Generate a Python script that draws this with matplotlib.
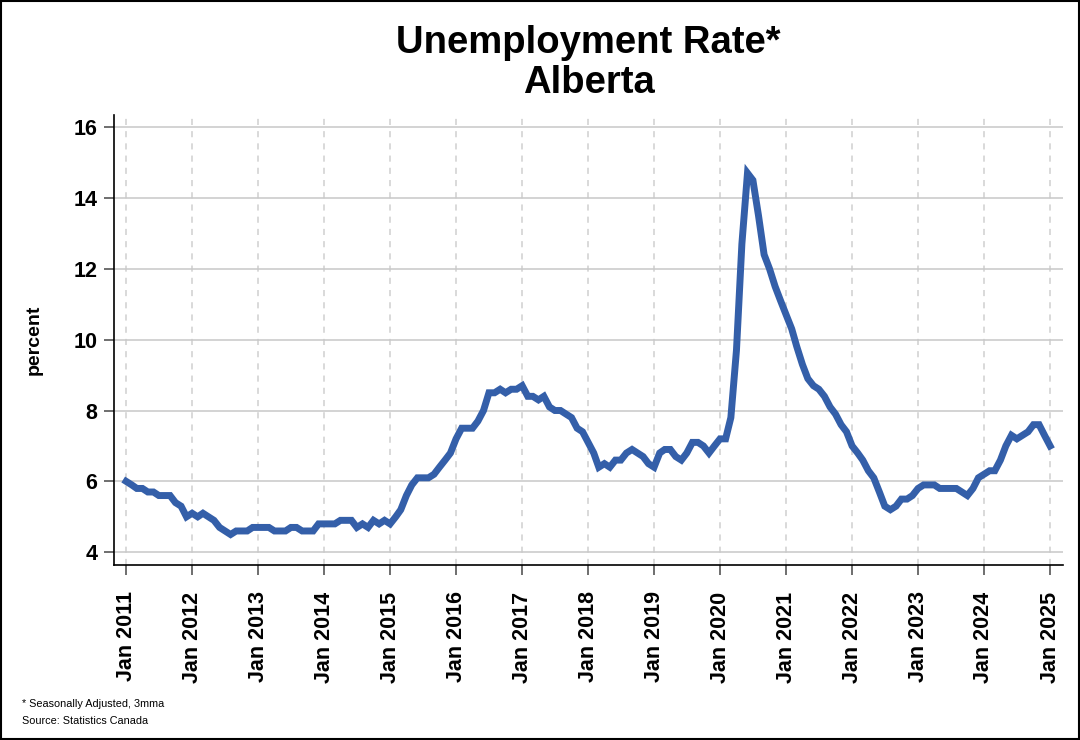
import numpy as np
import pandas as pd
import matplotlib
matplotlib.use('Agg')
import matplotlib.pyplot as plt

# monthly unemployment rate, Alberta, Jan 2011 - Jan 2025 (3mma, SA)
rate_2011 = [6.0, 5.9, 5.8, 5.8, 5.7, 5.7, 5.6, 5.6, 5.6, 5.4, 5.3, 5.0]
rate_2012 = [5.1, 5.0, 5.1, 5.0, 4.9, 4.7, 4.6, 4.5, 4.6, 4.6, 4.6, 4.7]
rate_2013 = [4.7, 4.7, 4.7, 4.6, 4.6, 4.6, 4.7, 4.7, 4.6, 4.6, 4.6, 4.8]
rate_2014 = [4.8, 4.8, 4.8, 4.9, 4.9, 4.9, 4.7, 4.8, 4.7, 4.9, 4.8, 4.9]
rate_2015 = [4.8, 5.0, 5.2, 5.6, 5.9, 6.1, 6.1, 6.1, 6.2, 6.4, 6.6, 6.8]
rate_2016 = [7.2, 7.5, 7.5, 7.5, 7.7, 8.0, 8.5, 8.5, 8.6, 8.5, 8.6, 8.6]
rate_2017 = [8.7, 8.4, 8.4, 8.3, 8.4, 8.1, 8.0, 8.0, 7.9, 7.8, 7.5, 7.4]
rate_2018 = [7.1, 6.8, 6.4, 6.5, 6.4, 6.6, 6.6, 6.8, 6.9, 6.8, 6.7, 6.5]
rate_2019 = [6.4, 6.8, 6.9, 6.9, 6.7, 6.6, 6.8, 7.1, 7.1, 7.0, 6.8, 7.0]
rate_2020 = [7.2, 7.2, 7.8, 9.7, 12.7, 14.7, 14.5, 13.5, 12.4, 12.0, 11.5, 11.1]
rate_2021 = [10.7, 10.3, 9.8, 9.3, 8.9, 8.7, 8.6, 8.4, 8.1, 7.9, 7.6, 7.4]
rate_2022 = [7.0, 6.8, 6.6, 6.3, 6.1, 5.7, 5.3, 5.2, 5.3, 5.5, 5.5, 5.6]
rate_2023 = [5.8, 5.9, 5.9, 5.9, 5.8, 5.8, 5.8, 5.8, 5.7, 5.6, 5.8, 6.1]
rate_2024 = [6.2, 6.3, 6.3, 6.6, 7.0, 7.3, 7.2, 7.3, 7.4, 7.6, 7.6, 7.3]
rate_2025 = [7.0]

rates = (rate_2011 + rate_2012 + rate_2013 + rate_2014 + rate_2015 + rate_2016
         + rate_2017 + rate_2018 + rate_2019 + rate_2020 + rate_2021 + rate_2022
         + rate_2023 + rate_2024 + rate_2025)
months = pd.date_range('2011-01-01', periods=len(rates), freq='MS')
tick_years = list(range(2011, 2026))
y_ticks = [4, 6, 8, 10, 12, 14, 16]

plt.rcParams['font.family'] = ['Liberation Sans', 'DejaVu Sans']

fig = plt.figure(figsize=(10.8, 7.4), dpi=100)
ax = fig.add_axes([0.1056, 0.2365, 0.8786, 0.6081])

ax.plot(months, rates, color='#345fa9', lw=5, solid_joinstyle='miter', zorder=3)

xticks = [pd.Timestamp(f'{y}-01-01') for y in tick_years]
ax.set_xticks(xticks)
ax.set_xticklabels([f'Jan {y}' for y in tick_years], rotation=90,
                   fontsize=15.5, fontweight='bold')
ax.set_xlim(pd.Timestamp('2010-10-26'), pd.Timestamp('2025-03-13'))
ax.set_ylim(3.64, 16.34)
ax.set_yticks(y_ticks)
ax.set_yticklabels([str(v) for v in y_ticks], fontsize=15.5, fontweight='bold')

ax.grid(axis='y', color='#c8c8c8', lw=1.1)
ax.grid(axis='x', color='#d0d0d0', lw=1.1, ls=(0, (4, 4)))
ax.set_axisbelow(True)

for s in ['top', 'right']:
    ax.spines[s].set_visible(False)
for s in ['left', 'bottom']:
    ax.spines[s].set_linewidth(1.2)
ax.tick_params(axis='both', length=7, width=1.2, color='#555555')
ax.tick_params(axis='x', pad=12)
ax.tick_params(axis='y', pad=5)

ax.set_ylabel('percent', fontsize=14, fontweight='bold', labelpad=22)

fig.text(0.545, 0.966, 'Unemployment Rate*\nAlberta', ha='center', va='top',
         fontsize=27.5, fontweight='bold', linespacing=1.12)

fig.text(0.020, 0.044, '* Seasonally Adjusted, 3mma', fontsize=7.8)
fig.text(0.020, 0.022, 'Source: Statistics Canada', fontsize=7.8)

# black frame round the whole figure
fig.patches.append(plt.Rectangle((0.0005, 0.0007), 0.999, 0.9986, transform=fig.transFigure,
                                 fill=False, edgecolor='black', lw=1.5))

fig.savefig('out.png', dpi=100)
